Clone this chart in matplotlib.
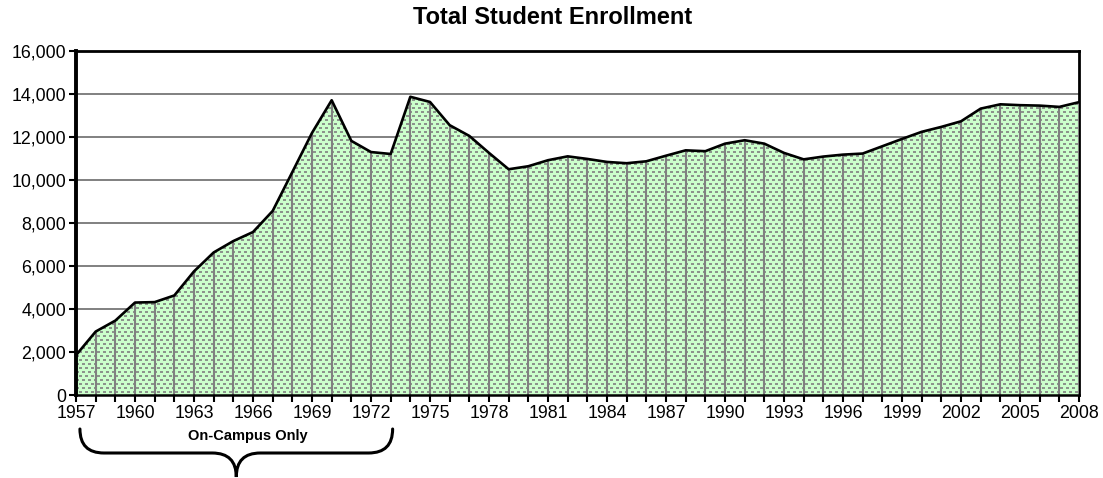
import numpy as np
import matplotlib
matplotlib.use("Agg")
import matplotlib.pyplot as plt
from matplotlib.path import Path
from matplotlib.patches import PathPatch
from matplotlib.transforms import IdentityTransform

plt.rcParams['font.family'] = ['Liberation Sans', 'DejaVu Sans']

# data
years = list(range(1957, 2009))
enrollment = [1850, 2950, 3460, 4300, 4320, 4630, 5750, 6630, 7160, 7580,
              8560, 10370, 12190, 13710, 11820, 11300, 11210, 13870, 13630, 12550,
              12050, 11260, 10500, 10640, 10920, 11100, 10980, 10840, 10780, 10870,
              11130, 11380, 11340, 11690, 11850, 11690, 11260, 10960, 11090, 11180,
              11230, 11570, 11910, 12240, 12470, 12730, 13320, 13520, 13480, 13460,
              13400, 13620]
y_ticks = [0, 2000, 4000, 6000, 8000, 10000, 12000, 14000, 16000]
x_labels = [str(y) if (y - 1957) % 3 == 0 else '' for y in years]
on_campus = (1957.2, 1973.1)   # span covered by the brace

W, H = 1103, 478
fig = plt.figure(figsize=(W / 100, H / 100), dpi=100)
ax = fig.add_axes([76 / W, 1 - 395 / H, (1079 - 76) / W, (395 - 51) / H])
ax.set_xlim(1957, 2008)
ax.set_ylim(0, 16000)

# gridlines behind the area
for yt in y_ticks[1:-1]:
    ax.axhline(yt, color='#808080', lw=1.4, zorder=1)

poly = ax.fill_between(years, enrollment, 0, facecolor='#ccffcc', edgecolor='none', zorder=3)

# excel-like dash pattern, built in pixel space and clipped to the area
pos = ax.get_position()
pw, ph = int(round(pos.width * W)), int(round(pos.height * H))
pat = np.zeros((ph, pw, 4))
rr, cc = np.mgrid[0:ph, 0:pw]
row = rr % 8
dash = ((row < 2) & ((cc % 6) < 3)) | (((row >= 4) & (row < 6)) & ((cc % 6) >= 3))
pat[dash] = [0.55, 0.58, 0.55, 1.0]
im = ax.imshow(pat, extent=[1957, 2008, 0, 16000], aspect='auto',
               interpolation='nearest', origin='upper', zorder=3.1)
im.set_clip_path(poly.get_paths()[0], transform=ax.transData)

ax.vlines(years, 0, enrollment, color='#808080', lw=1.5, zorder=4)
ax.plot(years, enrollment, color='black', lw=1.9, zorder=5, solid_joinstyle='round')

# frame
ax.spines['left'].set_linewidth(2.8)
ax.spines['top'].set_linewidth(2.0)
ax.spines['right'].set_linewidth(2.0)
ax.spines['bottom'].set_linewidth(1.8)
ax.spines['left'].set_zorder(6)
ax.spines['bottom'].set_zorder(6)
ax.spines['top'].set_zorder(2)
ax.spines['right'].set_zorder(2)

ax.set_yticks(y_ticks)
ax.set_yticklabels(['{:,}'.format(v) for v in y_ticks])
ax.set_xticks(years)
ax.set_xticklabels(x_labels)
ax.tick_params(axis='both', direction='out', length=5, width=1.5, labelsize=12.8, colors='black')
ax.tick_params(axis='x', pad=2)
ax.tick_params(axis='y', pad=2)

fig.text(553 / W, 1 - 18 / H, 'Total Student Enrollment', ha='center', va='center',
         fontsize=17, fontweight='bold')

# brace under the on-campus years
fig.canvas.draw()
x0 = ax.transData.transform((on_campus[0], 0))[0]
x1 = ax.transData.transform((on_campus[1], 0))[0]
xc = (x0 + x1) / 2
ytop, ymid, ybot = H - 429, H - 453, H - 477
r = 24
verts = [(x0, ytop), (x0, ymid), (x0 + r, ymid),
         (xc - r, ymid),
         (xc, ymid), (xc, ybot),
         (xc, ymid), (xc + r, ymid),
         (x1 - r, ymid),
         (x1, ymid), (x1, ytop)]
codes = [Path.MOVETO, Path.CURVE3, Path.CURVE3,
         Path.LINETO,
         Path.CURVE3, Path.CURVE3,
         Path.CURVE3, Path.CURVE3,
         Path.LINETO,
         Path.CURVE3, Path.CURVE3]
fig.add_artist(PathPatch(Path(verts, codes), transform=IdentityTransform(),
                         facecolor='none', edgecolor='black', lw=2.2, capstyle='round'))
fig.text((xc + 12) / W, 1 - 436 / H, 'On-Campus Only', ha='center', va='center',
         fontsize=10.5, fontweight='bold')

fig.savefig('out.png', dpi=100)
